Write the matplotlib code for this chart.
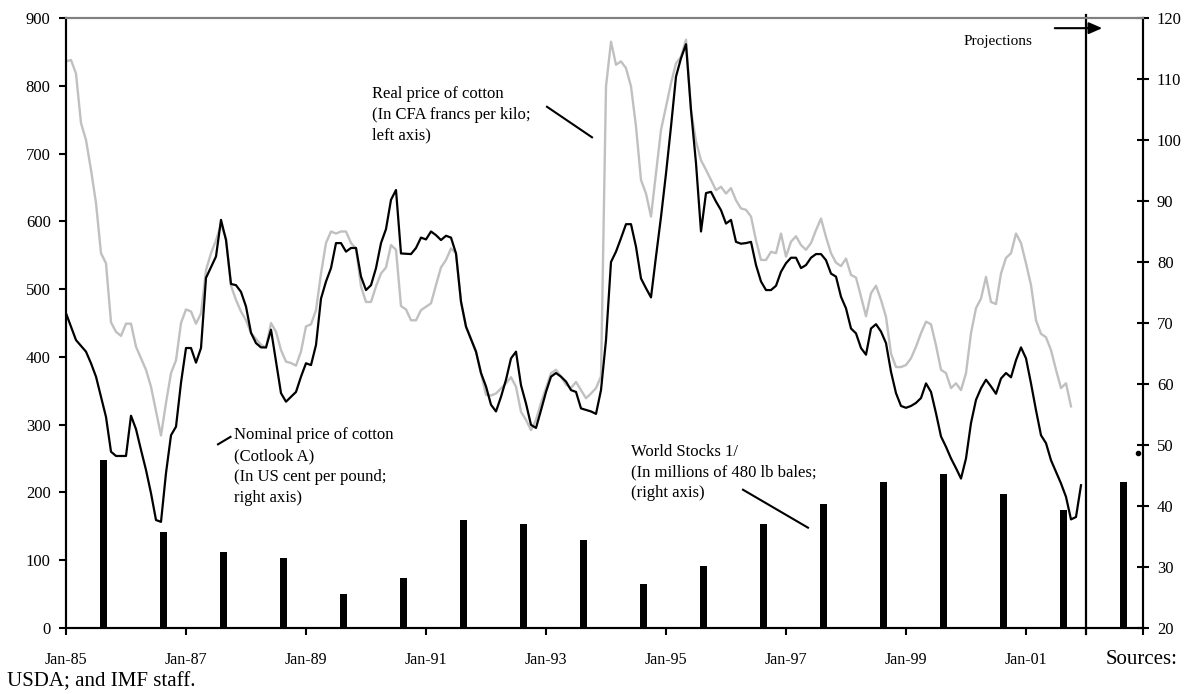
import matplotlib
matplotlib.use("Agg")
import matplotlib.pyplot as plt

plt.rcParams['font.family'] = ['Liberation Serif', 'DejaVu Serif']

# === Data (months since Jan-85) ===
nominal_months = [0, 2, 4, 5, 6, 8, 9, 10, 12, 13, 14, 15, 16, 17, 18, 19, 20, 21, 22, 23,
                  24, 25, 26, 27, 28, 30, 31, 32, 33, 34, 35, 36, 37, 38, 39, 40, 41, 42, 43, 44,
                  46, 47, 48, 49, 50, 51, 52, 53, 54, 55, 56, 57, 58, 59, 60, 61, 62, 63, 64, 65,
                  66, 67, 69, 70, 71, 72, 73, 74, 75, 76, 77, 78, 79, 80, 82, 83, 84, 85, 86, 87,
                  88, 89, 90, 91, 92, 93, 94, 95, 96, 97, 98, 99, 100, 101, 102, 103, 105, 106, 107, 108,
                  109, 110, 111, 112, 113, 114, 115, 116, 117, 118, 119, 120, 121, 122, 123, 124, 125, 126, 127, 128,
                  129, 130, 131, 132, 133, 134, 135, 136, 137, 138, 139, 140, 141, 142, 143, 144, 145, 146, 147, 148,
                  149, 150, 151, 152, 153, 154, 155, 156, 157, 158, 159, 160, 161, 162, 163, 164, 165, 166, 167, 168,
                  169, 170, 171, 172, 173, 174, 175, 176, 177, 178, 179, 180, 181, 182, 183, 184, 185, 186, 187, 188,
                  189, 190, 191, 192, 193, 194, 195, 196, 197, 198, 199, 200, 201, 202, 203]
nominal_price = [71.6, 67.2, 65.3, 63.4, 61.2, 54.6, 48.9, 48.2, 48.2, 54.8, 52.6, 49.2, 45.9, 42.1, 37.7, 37.4, 45.4, 51.6, 53.0, 60.2,
                 65.9, 65.9, 63.5, 65.9, 77.4, 80.9, 86.9, 83.6, 76.4, 76.2, 75.1, 72.7, 68.4, 66.7, 66.0, 66.0, 68.9, 63.7, 58.5, 57.1,
                 58.7, 61.2, 63.4, 63.1, 66.4, 74.0, 76.8, 79.0, 83.1, 83.1, 81.7, 82.3, 82.3, 77.6, 75.4, 76.2, 79.0, 83.1, 85.4, 90.2,
                 91.8, 81.4, 81.3, 82.3, 84.0, 83.7, 85.0, 84.4, 83.6, 84.3, 84.0, 81.4, 73.5, 69.4, 65.3, 61.8, 59.6, 56.6, 55.5, 57.9,
                 60.7, 64.2, 65.3, 59.8, 56.8, 53.3, 52.8, 55.7, 58.7, 61.2, 61.8, 61.2, 60.4, 59.0, 58.7, 56.0, 55.5, 55.1, 59.0, 67.2,
                 80.0, 81.7, 83.9, 86.2, 86.2, 82.5, 77.3, 75.7, 74.2, 80.9, 87.4, 94.5, 102.2, 110.4, 113.4, 115.7, 104.9, 96.2, 85.0, 91.3,
                 91.5, 89.9, 88.5, 86.3, 86.9, 83.3, 83.0, 83.1, 83.3, 79.5, 76.8, 75.4, 75.4, 76.1, 78.4, 79.8, 80.7, 80.7, 79.0, 79.5,
                 80.7, 81.3, 81.3, 80.3, 78.1, 77.6, 74.3, 72.4, 69.1, 68.3, 65.9, 64.8, 69.1, 69.8, 68.6, 66.7, 62.0, 58.5, 56.4, 56.1,
                 56.4, 56.9, 57.7, 60.1, 58.7, 55.2, 51.4, 49.7, 47.8, 46.2, 44.5, 47.8, 53.6, 57.4, 59.3, 60.7, 59.6, 58.4, 60.9, 61.8,
                 61.1, 63.9, 66.0, 64.2, 60.1, 55.7, 51.6, 50.3, 47.5, 45.6, 43.7, 41.5, 37.8, 38.2, 43.4]

real_months = [0, 1, 2, 3, 4, 5, 6, 7, 8, 9, 10, 11, 12, 13, 14, 16, 17, 18, 19, 20,
               21, 22, 23, 24, 25, 26, 27, 28, 29, 30, 31, 32, 33, 34, 35, 36, 37, 39, 40, 41,
               42, 43, 44, 45, 46, 47, 48, 49, 50, 51, 52, 53, 54, 55, 56, 57, 58, 59, 60, 61,
               62, 63, 64, 65, 66, 67, 68, 69, 70, 71, 72, 73, 74, 75, 76, 77, 78, 79, 80, 82,
               83, 84, 85, 86, 88, 89, 90, 91, 92, 93, 94, 95, 96, 97, 98, 99, 100, 101, 102, 103,
               104, 105, 106, 107, 108, 109, 110, 111, 112, 113, 114, 115, 116, 117, 119, 120, 121, 122, 123, 124,
               125, 126, 127, 128, 129, 130, 131, 132, 133, 134, 135, 136, 137, 138, 139, 140, 141, 142, 143, 144,
               145, 146, 147, 148, 149, 150, 151, 152, 153, 154, 155, 156, 157, 158, 159, 160, 161, 162, 163, 164,
               165, 166, 167, 168, 169, 170, 171, 172, 173, 174, 175, 176, 177, 178, 179, 180, 181, 182, 183, 184,
               185, 186, 187, 188, 189, 190, 191, 192, 193, 194, 195, 196, 197, 198, 199, 200, 201]
real_price = [836, 838, 818, 745, 720, 676, 627, 553, 538, 451, 437, 431, 449, 449, 415, 381, 356, 320, 284, 332,
              376, 395, 450, 470, 467, 449, 464, 528, 553, 572, 595, 575, 505, 484, 467, 454, 435, 418, 413, 450,
              437, 410, 393, 391, 387, 408, 445, 448, 469, 523, 568, 585, 582, 585, 585, 568, 560, 504, 481, 481,
              504, 523, 532, 565, 558, 475, 470, 454, 454, 469, 474, 479, 506, 532, 543, 560, 553, 481, 445, 408,
              376, 344, 343, 346, 361, 370, 356, 319, 307, 292, 307, 332, 354, 376, 381, 371, 359, 354, 363, 351,
              339, 346, 354, 371, 799, 865, 831, 836, 826, 799, 740, 661, 641, 607, 735, 769, 804, 833, 843, 868,
              764, 718, 690, 676, 661, 646, 651, 641, 649, 631, 619, 617, 607, 572, 543, 543, 555, 553, 582, 548,
              570, 578, 565, 558, 568, 587, 604, 577, 553, 539, 534, 545, 521, 517, 489, 460, 494, 505, 484, 459,
              405, 385, 385, 388, 398, 415, 435, 452, 448, 417, 381, 376, 354, 361, 351, 376, 435, 472, 486, 518,
              481, 478, 523, 546, 553, 582, 568, 538, 506, 454, 434, 429, 410, 381, 354, 361, 327]

stock_years = list(range(1985, 2003))
world_stocks = [47.5, 35.7, 32.5, 31.5, 25.6, 28.2, 37.7, 37.0, 34.4, 27.2,
                30.2, 37.0, 40.3, 43.9, 45.2, 42.0, 39.3, 43.9]

proj_month = [214.4]
proj_nominal = [48.7]

xtick_months = [0, 24, 48, 72, 96, 120, 144, 168, 192, 215.4]
xtick_labels = ['Jan-85', 'Jan-87', 'Jan-89', 'Jan-91', 'Jan-93', 'Jan-95', 'Jan-97', 'Jan-99', 'Jan-01', '']

# === Figure ===
W, H = 1184, 694
fig = plt.figure(figsize=(W / 100, H / 100), dpi=100)
x0, x1, y0, y1 = 66, 1143, 18, 628
ax = fig.add_axes([x0 / W, 1 - y1 / H, (x1 - x0) / W, (y1 - y0) / H])
ax2 = ax.twinx()

# left axis: real price (grey)
ax.plot(real_months, real_price, color='#c0c0c0', lw=1.7, zorder=2)
ax.set_xlim(0, 215.4)
ax.set_ylim(0, 900)
ax.set_yticks(range(0, 901, 100))
ax.set_xticks(xtick_months)
ax.set_xticklabels(xtick_labels)

# right axis: world stocks (bars) and nominal price (black)
bar_x = [(y - 1985) * 12 + 7.5 for y in stock_years]
ax2.bar(bar_x, world_stocks, width=1.3, color='black', zorder=2)
ax2.plot(nominal_months, nominal_price, color='black', lw=1.6, zorder=3)
ax2.plot(proj_month, proj_nominal, 'o', color='black', ms=3, zorder=3, clip_on=False)
ax2.set_ylim(20, 120)
ax2.set_yticks(range(20, 121, 10))
ax2.set_xlim(0, 215.4)

# spines and ticks
for a in (ax, ax2):
    for s in a.spines.values():
        s.set_linewidth(1.5)
    a.spines['top'].set_color('#808080')
ax.tick_params(axis='y', direction='out', length=5, width=1.5, labelsize=12, pad=6)
ax.tick_params(axis='x', direction='out', length=5, width=1.5, labelsize=11.5, pad=12)
ax2.tick_params(axis='y', direction='inout', length=8, width=1.5, labelsize=12, pad=6)

# projections line and arrow
ax.axvline(204, ymin=-0.01, ymax=1.005, color='black', lw=1.6, clip_on=False, zorder=4)
ax.annotate('', xy=(207.8, 885), xytext=(197.2, 885),
            arrowprops=dict(arrowstyle='-|>,head_length=0.8,head_width=0.35', color='black', lw=1.5),
            annotation_clip=False)
ax.text(179.5, 865, 'Projections', fontsize=11, va='center', ha='left')

# annotations
ax.text(61.2, 800, 'Real price of cotton\n(In CFA francs per kilo;\nleft axis)',
        fontsize=12, va='top', ha='left', linespacing=1.4)
ax.plot([96.2, 105.2], [769, 724], color='black', lw=1.5)

ax.text(33.6, 296, 'Nominal price of cotton\n(Cotlook A)\n(In US cent per pound;\nright axis)',
        fontsize=12, va='top', ha='left', linespacing=1.4)
ax.plot([30.4, 32.9], [271, 282], color='black', lw=1.5)

ax.text(113, 272, 'World Stocks 1/\n(In millions of 480 lb bales;\n(right axis)',
        fontsize=12, va='top', ha='left', linespacing=1.4)
ax.plot([135.4, 148.4], [204, 148], color='black', lw=1.5)

fig.text(1178 / W, 1 - 660 / H, 'Sources:', fontsize=15, ha='right', va='center')
fig.text(7 / W, 1 - 682 / H, 'USDA; and IMF staff.', fontsize=15, ha='left', va='center')

fig.savefig('out.png', dpi=100)
